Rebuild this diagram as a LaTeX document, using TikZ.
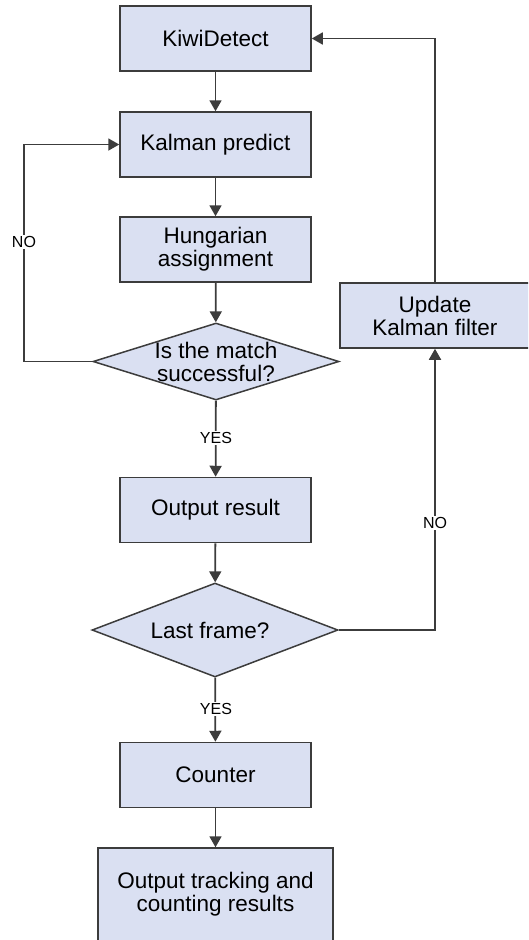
\documentclass[tikz,border=0pt]{standalone}
\usepackage{fontspec}
\setmainfont{Liberation Sans}
\usetikzlibrary{shapes.geometric,arrows.meta}
\definecolor{boxfill}{RGB}{218,224,242}
\definecolor{edgecol}{RGB}{60,60,60}
\begin{document}
\begin{tikzpicture}[x=1pt,y=-1pt,
  box/.style={draw=edgecol,fill=boxfill,line width=1.5pt,minimum width=191pt,minimum height=65pt,inner sep=0pt,align=center,font=\fontsize{22.5}{23}\selectfont},
  dia/.style={draw=edgecol,fill=boxfill,line width=1.5pt,shape=diamond,inner sep=0pt},
  txt/.style={align=center,inner sep=0pt,font=\fontsize{22.5}{23}\selectfont},
  lab/.style={fill=white,inner sep=1.5pt,font=\fontsize{16}{16}\selectfont},
  conn/.style={draw=edgecol,line width=1.8pt,-{Triangle[length=11pt,width=12pt]}}]
\useasboundingbox (0,0) rectangle (528,940);
\clip (0,0) rectangle (528,940);
\node[box] (kiwi) at (215.5,38.5) {KiwiDetect};
\node[box] (kp) at (215.5,144.5) {Kalman predict};
\node[box] (hung) at (215.5,249.5) {Hungarian\\assignment};
\node[dia,minimum width=246pt,minimum height=77pt] (d1) at (216,361.5) {};
\node[txt] (d1t) at (216,361.5) {Is the match\\successful?};
\node[box] (out) at (215.5,510) {Output result};
\node[dia,minimum width=246pt,minimum height=94pt] (d2) at (215,630) {};
\node[txt] (d2t) at (210,630) {Last frame?};
\node[box] (cnt) at (215.5,775) {Counter};
\node[box,minimum width=235pt,minimum height=96pt] (res) at (215.5,896) {};
\node[txt] (rest) at (215.5,894) {Output tracking and\\counting results};
\node[box,minimum width=190pt] (upd) at (435,315.5) {Update\\Kalman filter};
\coordinate (cl) at (24,361.5);
\coordinate (cr) at (435,630);
\coordinate (ct) at (435,38.5);
\draw[conn] (kiwi) -- (kp);
\draw[conn] (kp) -- (hung);
\draw[conn] (hung) -- (d1);
\draw[conn] (d1) -- (out);
\draw[conn] (out) -- (d2);
\draw[conn] (d2) -- (cnt);
\draw[conn] (cnt) -- (res);
\draw[conn] (d1.west) -- (cl) |- (kp.west);
\draw[conn] (d2.east) -- (cr) -- (upd.south);
\draw[conn] (upd.north) -- (ct) -- (kiwi.east);
\node[lab] (no1) at (24,242) {NO};
\node[lab] (no2) at (435,523) {NO};
\node[lab] (yes1) at (216,438) {YES};
\node[lab] (yes2) at (216,709) {YES};
\end{tikzpicture}
\end{document}
